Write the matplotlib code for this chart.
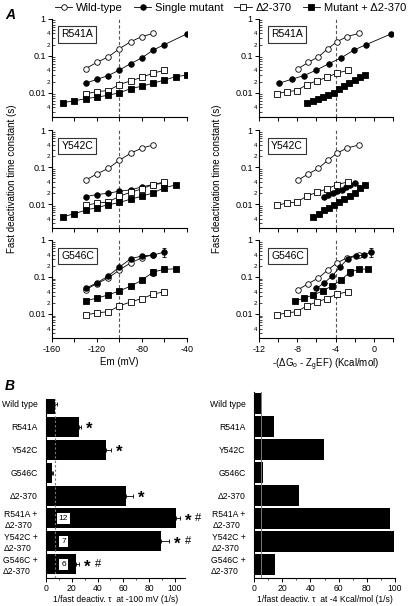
import numpy as np
import matplotlib
matplotlib.use('Agg')
import matplotlib.pyplot as plt
from matplotlib.lines import Line2D
from matplotlib.ticker import FixedLocator, FixedFormatter

plt.rcParams['font.family'] = ['Liberation Sans', 'DejaVu Sans']
plt.rcParams['axes.linewidth'] = 0.8

## Panel A data: time constants (s) vs voltage (mV) and vs energy (Kcal/mol)
volt_wt = [-130, -120, -110, -100, -90, -80, -70]
tau_wt = [0.045, 0.066, 0.093, 0.155, 0.24, 0.33, 0.40]
ener_wt = [-7.9, -6.85, -5.8, -4.8, -3.85, -2.8, -1.6]

volt_del = [-130, -120, -110, -100, -90, -80, -70, -60]
tau_del = [0.0093, 0.0107, 0.0114, 0.0165, 0.021, 0.026, 0.034, 0.040]
err_del = [0, 0, 0.001, 0, 0, 0, 0, 0.005]
ener_del = [-10.15, -9.1, -8.05, -7.0, -5.95, -4.9, -3.85, -2.7]

mutants = ['R541A', 'Y542C', 'G546C']

volt_single = {
    'R541A': [-130, -120, -110, -100, -90, -80, -70, -60, -40],
    'Y542C': [-130, -120, -110, -100, -90, -80, -70, -60],
    'G546C': [-130, -120, -110, -100, -90, -80, -70, -60],
}
tau_single = {
    'R541A': [0.018, 0.023, 0.029, 0.041, 0.061, 0.088, 0.142, 0.20, 0.39],
    'Y542C': [0.0161, 0.0182, 0.0198, 0.0225, 0.0244, 0.0294, 0.034, 0.037],
    'G546C': [0.049, 0.069, 0.106, 0.185, 0.31, 0.37, 0.39, 0.47],
}
err_single = {
    'R541A': [0, 0, 0, 0, 0, 0, 0, 0, 0],
    'Y542C': [0, 0, 0, 0, 0, 0, 0, 0.004],
    'G546C': [0, 0, 0, 0, 0, 0, 0, 0.12],
}
ener_single = {
    'R541A': [-9.9, -8.6, -7.3, -6.0, -4.7, -3.4, -2.1, -0.8, 1.8],
    'Y542C': [-5.2, -4.74, -4.28, -3.82, -3.36, -2.9, -2.44, -1.98],
    'G546C': [-6.0, -5.18, -4.36, -3.54, -2.72, -1.9, -1.08, -0.26],
}

volt_combo = {
    'R541A': [-150, -140, -130, -120, -110, -100, -90, -80, -70, -60, -50, -40],
    'Y542C': [-150, -140, -130, -120, -110, -100, -90, -80, -70, -60, -50],
    'G546C': [-130, -120, -110, -100, -90, -80, -70, -60, -50],
}
tau_combo = {
    'R541A': [0.0054, 0.006, 0.0069, 0.0076, 0.0085, 0.010, 0.0128, 0.015, 0.018, 0.022, 0.027, 0.030],
    'Y542C': [0.0046, 0.0055, 0.0069, 0.0081, 0.0096, 0.0111, 0.0137, 0.0164, 0.0202, 0.028, 0.033],
    'G546C': [0.0226, 0.0266, 0.0326, 0.0417, 0.0565, 0.0816, 0.136, 0.16, 0.166],
}
err_combo = {
    'R541A': [0] * 12,
    'Y542C': [0] * 11,
    'G546C': [0, 0, 0, 0, 0, 0, 0.03, 0, 0],
}
ener_combo = {
    'R541A': [-6.95, -6.4, -5.85, -5.3, -4.75, -4.2, -3.65, -3.1, -2.55, -2.0, -1.45, -0.9],
    'Y542C': [-6.32, -5.78, -5.24, -4.7, -4.16, -3.62, -3.08, -2.54, -2.0, -1.46, -0.92],
    'G546C': [-8.24, -7.28, -6.32, -5.36, -4.4, -3.44, -2.48, -1.52, -0.56],
}

## Panel B data: 1/fast deactivation tau (1/s)
bar_labels = ['Wild type', 'R541A', 'Y542C', 'G546C', '\u03942-370',
              'R541A +\n\u03942-370', 'Y542C +\n\u03942-370', 'G546C +\n\u03942-370']
rate_100mv = [7.0, 25.6, 46.5, 4.9, 61.8, 101.3, 89.4, 23.0]
rate_100mv_err = [1.3, 1.3, 3.9, 0.6, 5.4, 2.6, 6.2, 2.6]
rate_4kcal = [5.2, 14.0, 49.5, 6.4, 32.0, 96.4, 99.5, 15.2]
signif = ['', '*', '*', '', '*', '*#', '*#', '*#']
n_cells = {5: '12', 6: '7', 7: '6'}

fig = plt.figure(figsize=(4.15, 6.06), dpi=100)

row_bottoms = [0.807, 0.623, 0.442]
row_h = 0.162
ytick_minor = [k * 10.0 ** e for e in (-3, -2, -1) for k in range(2, 10)]
minor_lab = {0.004: '4', 0.02: '2', 0.04: '4', 0.2: '2', 0.4: '4'}


def style_log_axis(ax):
    ax.set_yscale('log')
    ax.set_ylim(0.0022, 1.0)
    ax.yaxis.set_major_locator(FixedLocator([0.01, 0.1, 1]))
    ax.yaxis.set_major_formatter(FixedFormatter(['0.01', '0.1', '1']))
    ax.yaxis.set_minor_locator(FixedLocator(ytick_minor))
    labs = []
    for v in ytick_minor:
        lab = ''
        for k, s in minor_lab.items():
            if abs(v - k) < 1e-9:
                lab = s
        labs.append(lab)
    ax.yaxis.set_minor_formatter(FixedFormatter(labs))
    ax.tick_params(axis='y', which='major', direction='out', length=3, width=0.7, labelsize=6.5, pad=1.5)
    ax.tick_params(axis='y', which='minor', direction='in', length=2, width=0.5, labelsize=4.5, pad=1.5)
    ax.tick_params(axis='x', which='major', direction='out', length=3, width=0.7, labelsize=6.5, pad=2)
    for s in ['top', 'right']:
        ax.spines[s].set_visible(False)


def draw_series(ax, x, y, err, marker, filled):
    ax.errorbar(x, y, yerr=err, color='black', lw=0.6, marker=marker, ms=4,
                mfc='black' if filled else 'white', mec='black', mew=0.6,
                elinewidth=0.6, capsize=1.2, capthick=0.6)


for r, mut in enumerate(mutants):
    # left column: vs membrane voltage
    axl = fig.add_axes([0.1253, row_bottoms[r], 0.325, row_h])
    style_log_axis(axl)
    axl.set_xlim(-160, -40)
    axl.set_xticks(range(-160, -39, 20))
    if r == 2:
        axl.set_xticklabels(['-160', '', '-120', '', '-80', '', '-40'])
        axl.set_xlabel('Em (mV)', fontsize=7, labelpad=2)
    else:
        axl.set_xticklabels([''] * 7)
    axl.axvline(-100, color='#555555', ls=(0, (3, 2)), lw=0.8, zorder=0)
    draw_series(axl, volt_wt, tau_wt, None, 'o', False)
    draw_series(axl, volt_single[mut], tau_single[mut], err_single[mut], 'o', True)
    draw_series(axl, volt_del, tau_del, err_del, 's', False)
    draw_series(axl, volt_combo[mut], tau_combo[mut], err_combo[mut], 's', True)
    axl.text(0.07, 0.84, mut, transform=axl.transAxes, fontsize=7.5, va='center', ha='left',
             bbox=dict(boxstyle='square,pad=0.3', fc='white', ec='#333333', lw=0.8))

    # right column: vs free energy
    axr = fig.add_axes([0.624, row_bottoms[r], 0.323, row_h])
    style_log_axis(axr)
    axr.set_xlim(-12, 2)
    axr.set_xticks(range(-12, 3, 2))
    if r == 2:
        axr.set_xticklabels(['-12', '', '-8', '', '-4', '', '0', ''])
        axr.set_xlabel('-(\u0394G$_\\mathregular{o}$ - Z$_\\mathregular{g}$EF) (Kcal/mol)', fontsize=7, labelpad=2)
    else:
        axr.set_xticklabels([''] * 8)
    axr.axvline(-4, color='#555555', ls=(0, (3, 2)), lw=0.8, zorder=0)
    draw_series(axr, ener_wt, tau_wt, None, 'o', False)
    draw_series(axr, ener_single[mut], tau_single[mut], err_single[mut], 'o', True)
    draw_series(axr, ener_del, tau_del, err_del, 's', False)
    draw_series(axr, ener_combo[mut], tau_combo[mut], err_combo[mut], 's', True)
    axr.text(0.09, 0.84, mut, transform=axr.transAxes, fontsize=7.5, va='center', ha='left',
             bbox=dict(boxstyle='square,pad=0.3', fc='white', ec='#333333', lw=0.8))

ylab = 'Fast deactivation time constant (s)'
fig.text(0.03, 0.705, ylab, rotation=90, ha='center', va='center', fontsize=7)
fig.text(0.523, 0.705, ylab, rotation=90, ha='center', va='center', fontsize=7)

# legend on top
handles = [
    Line2D([], [], color='black', lw=0.6, marker='o', ms=4, mfc='white', mec='black', mew=0.6),
    Line2D([], [], color='black', lw=0.6, marker='o', ms=4, mfc='black', mec='black', mew=0.6),
    Line2D([], [], color='black', lw=0.6, marker='s', ms=4, mfc='white', mec='black', mew=0.6),
    Line2D([], [], color='black', lw=0.6, marker='s', ms=4, mfc='black', mec='black', mew=0.6),
]
fig.legend(handles, ['Wild-type', 'Single mutant', '\u03942-370', 'Mutant + \u03942-370'],
           loc='upper center', bbox_to_anchor=(0.555, 1.012), ncol=4, frameon=False,
           fontsize=8, handlelength=1.6, handletextpad=0.3, columnspacing=1.0)

fig.text(0.012, 0.987, 'A', fontsize=10, weight='bold', style='italic', va='top')
fig.text(0.012, 0.375, 'B', fontsize=10, weight='bold', style='italic', va='top')

## Panel B bars
ypos = np.arange(len(bar_labels))


def style_bar_axis(ax):
    for s in ['top', 'right']:
        ax.spines[s].set_visible(False)
    ax.set_yticks(ypos)
    ax.set_yticklabels(bar_labels, fontsize=6.2, linespacing=1.25, multialignment='left')
    ax.tick_params(axis='y', length=0, pad=6)
    ax.tick_params(axis='x', which='major', direction='out', length=3, width=0.7, labelsize=6.2, pad=1.5)
    ax.tick_params(axis='x', which='minor', direction='out', length=1.5, width=0.5)


axb1 = fig.add_axes([0.111, 0.0462, 0.335, 0.295])
axb1.barh(ypos, rate_100mv, height=0.87, color='black', zorder=2)
axb1.errorbar(rate_100mv, ypos, xerr=[[0] * len(ypos), rate_100mv_err], fmt='none',
              ecolor='black', elinewidth=0.6, capsize=1.5, capthick=0.6, zorder=1)
axb1.axvline(rate_100mv[0], color='#777777', ls=(0, (2, 2)), lw=0.8, zorder=3)
axb1.set_xlim(0, 108)
axb1.set_ylim(7.59, -0.19)
axb1.set_xticks(range(0, 101, 20))
axb1.set_xticks(range(10, 101, 20), minor=True)
style_bar_axis(axb1)
axb1.set_xlabel('1/fast deactiv. \u03c4  at -100 mV (1/s)', fontsize=6.2, labelpad=1)
for i, s in enumerate(signif):
    end = rate_100mv[i] + rate_100mv_err[i]
    if '*' in s:
        axb1.text(end + 6.5, ypos[i] + 0.12, '*', fontsize=12, weight='bold', ha='center', va='center',
                  clip_on=False)
    if '#' in s:
        axb1.text(end + 14.5, ypos[i], '#', fontsize=8, ha='center', va='center', clip_on=False)
for i, n in n_cells.items():
    axb1.text(13.5, ypos[i], n, fontsize=6, ha='center', va='center', zorder=4,
              bbox=dict(boxstyle='square,pad=0.25', fc='white', ec='none'))

axb2 = fig.add_axes([0.612, 0.0462, 0.340, 0.307])
axb2.barh(ypos, rate_4kcal, height=0.9, color='black', zorder=2)
axb2.axvline(rate_4kcal[0], color='#777777', lw=0.7, zorder=3)
axb2.set_xlim(0, 100)
axb2.set_ylim(7.6, -0.5)
axb2.set_xticks(range(0, 101, 20))
axb2.set_xticks(range(10, 101, 20), minor=True)
style_bar_axis(axb2)
axb2.set_xlabel('1/fast deactiv. \u03c4  at -4 Kcal/mol (1/s)', fontsize=6.2, labelpad=1)

fig.savefig('out.png', dpi=100)
